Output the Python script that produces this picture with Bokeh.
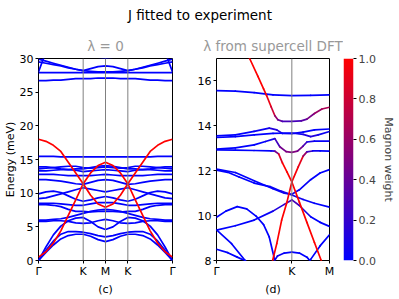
import numpy as np
from bokeh.plotting import figure
from bokeh.layouts import row, column
from bokeh.models import (Range1d, FixedTicker, Span, ColumnDataSource, LinearColorMapper,
                          PrintfTickFormatter)
from bokeh.transform import transform
from bokeh.core.properties import value
from bokeh.embed import file_html
from bokeh.resources import INLINE

# ---------------- texts ----------------
SUPTITLE = "J fitted to experiment"
TITLE_L = "λ = 0"
TITLE_R = "λ from supercell DFT"
YLABEL = "Energy (meV)"
CB_LABEL = "Magnon weight"
PANEL_L = "(c)"
PANEL_R = "(d)"

# ---------------- left panel (path Γ-K-M-K-Γ, symmetric about M) ----------------
L_TICKS = [0, 2, 3, 4, 6]
L_TICK_LABELS = ["Γ", "K", "M", "K", "Γ"]
L_VLINES = [2, 3, 4]
L_YTICKS = [0, 5, 10, 15, 20, 25, 30]
L_PATH_END = 6
KL = [0, 1/3, 2/3, 1, 4/3, 5/3, 2, 7/3, 8/3, 3]   # Γ -> K -> M

# phonon bands (meV) along Γ-K-M
B1 = [0.0, 1.2, 2.3, 3.2, 3.7, 3.9, 3.9, 3.6, 3.1, 2.8]
B2 = [0.0, 1.5, 2.9, 3.9, 4.3, 4.3, 4.2, 4.0, 3.7, 3.5]
B3 = [0.0, 2.0, 3.8, 5.1, 5.9, 6.3, 6.4, 5.8, 5.0, 4.6]
B4 = [5.8, 5.8, 5.9, 5.9, 5.8, 5.6, 5.5, 5.6, 5.9, 6.1]
B5 = [6.0, 6.0, 6.1, 6.2, 6.4, 6.7, 7.0, 7.3, 7.5, 7.6]
B6 = [8.3, 8.3, 8.2, 8.0, 7.6, 7.3, 7.3, 7.2, 7.3, 7.3]
B7 = [8.5, 8.5, 8.5, 8.4, 8.3, 8.2, 8.2, 8.4, 8.6, 8.6]
B8 = [9.2, 9.3, 9.6, 9.9, 10.2, 10.5, 10.8, 10.6, 10.4, 10.2]
B9 = [9.9, 10.2, 10.3, 10.1, 9.6, 9.1, 8.8, 9.0, 9.3, 9.5]
B10 = [12.0, 12.0, 11.9, 11.8, 11.6, 11.4, 11.3, 11.6, 11.9, 12.0]
B11 = [12.8, 12.8, 12.8, 12.7, 12.6, 12.6, 12.6, 12.6, 12.7, 12.8]
B12 = [13.3, 13.3, 13.4, 13.5, 13.5, 13.4, 13.2, 13.3, 13.4, 13.5]
B13 = [13.6, 13.7, 13.8, 13.9, 14.0, 14.0, 13.8, 13.7, 13.8, 13.9]
B14 = [13.9, 13.9, 13.8, 13.6, 13.5, 13.6, 13.6, 13.8, 14.0, 14.1]
B15 = [15.45, 15.45, 15.45, 15.4, 15.4, 15.4, 15.4, 15.4, 15.4, 15.4]
T1 = [26.7, 26.7, 26.8, 26.8, 26.9, 27.0, 27.0, 27.0, 27.1, 27.1]
T2 = [27.9, 27.9, 27.9, 27.9, 27.9, 27.9, 27.9, 27.9, 27.9, 27.9]
T3 = [29.9, 29.6, 29.3, 29.0, 28.7, 28.4, 28.2, 28.5, 28.8, 28.9]
T4 = [29.5, 29.3, 29.1, 28.9, 28.6, 28.4, 28.2, 28.1, 28.0, 28.0]
T5 = [28.0, 31.0, 31.5, 31.5, 31.5, 31.2, 31.0, 30.6, 30.2, 30.05]
PHONONS_L = [B1, B2, B3, B4, B5, B6, B7, B8, B9, B10, B11, B12, B13, B14, B15,
             T1, T2, T3, T4, T5]
# magnon bands along Γ-K-M
M1 = [0.5, 1.3, 2.6, 4.4, 6.7, 9.0, 11.4, 9.7, 8.4, 7.9]
M2 = [18.0, 17.7, 17.1, 16.2, 14.6, 13.0, 11.4, 13.0, 14.1, 14.6]
MAGNONS_L = [M1, M2]

# ---------------- right panel (path Γ-K-M), coloured by magnon weight ----------------
R_TICKS = [0, 2, 3]
R_TICK_LABELS = ["Γ", "K", "M"]
R_VLINES = [2]
R_YRANGE = [8, 17]
R_YTICKS = [8, 10, 12, 14, 16]
CB_TICKS = [0.0, 0.2, 0.4, 0.6, 0.8, 1.0]

R1_k = [0, 0.5, 1.0, 1.5, 2.0, 2.5, 3.0]
R1_E = [15.57, 15.55, 15.48, 15.38, 15.35, 15.36, 15.38]
R1_w = [0, 0, 0, 0, 0, 0, 0]

R3_k = [0, 0.5, 1.0, 1.4, 1.6, 1.75, 2.0, 2.3, 2.6, 3.0]
R3_E = [13.55, 13.6, 13.75, 13.9, 13.82, 13.66, 13.65, 13.72, 13.82, 13.86]
R3_w = [0, 0, 0, 0.1, 0.15, 0.1, 0.05, 0, 0, 0]

R4_k = [0, 0.5, 1.0, 1.5, 2.0, 2.3, 2.5, 2.7, 3.0]
R4_E = [13.48, 13.52, 13.6, 13.66, 13.68, 13.62, 13.52, 13.6, 13.75]
R4_w = [0, 0, 0, 0, 0, 0.1, 0.15, 0.1, 0]

R5_k = [0, 0.5, 1.0, 1.3, 1.55, 1.68, 1.85, 2.0, 2.15, 2.3, 2.4, 2.6, 3.0]
R5_E = [12.96, 13.02, 13.15, 13.3, 13.43, 13.07, 12.85, 12.82, 12.87, 13.1, 13.28, 13.32, 13.32]
R5_w = [0, 0, 0, 0, 0.1, 0.4, 0.5, 0.5, 0.5, 0.4, 0.15, 0.05, 0]

R8_k = [0, 0.5, 1.0, 1.5, 1.8, 2.0, 2.2, 2.5, 2.75, 3.0]
R8_E = [12.07, 11.92, 11.55, 11.2, 11.0, 10.95, 11.15, 11.6, 11.9, 12.05]
R8_w = [0, 0, 0, 0, 0.05, 0.1, 0.05, 0, 0, 0]

R9_k = [0, 0.3, 0.6, 1.0, 1.42, 1.7, 2.0, 2.3, 2.6, 3.0]
R9_E = [12.03, 11.93, 11.72, 11.45, 11.29, 11.1, 10.92, 10.72, 10.55, 10.38]
R9_w = [0, 0, 0, 0, 0, 0.05, 0.1, 0.05, 0, 0]

R10_k = [0, 0.5, 1.0, 1.5, 1.8, 2.0, 2.2, 2.5, 2.75, 3.0]
R10_E = [9.35, 9.55, 9.8, 10.2, 10.5, 10.7, 10.45, 9.95, 9.7, 9.52]
R10_w = [0, 0, 0, 0.05, 0.2, 0.35, 0.2, 0, 0, 0]

R11_k = [0, 0.25, 0.55, 0.8, 1.05, 1.25, 1.4, 1.52, 1.56]
R11_E = [9.93, 10.2, 10.4, 10.3, 9.98, 9.6, 9.05, 8.2, 7.8]
R11_w = [0, 0, 0, 0, 0, 0, 0, 0, 0]

R12_k = [0, 0.4, 0.76, 0.85]
R12_E = [9.37, 8.75, 8.0, 7.8]
R12_w = [0, 0, 0, 0]

R13_k = [0, 0.3, 0.55, 0.75, 0.85]
R13_E = [8.5, 8.35, 8.15, 8.0, 7.9]
R13_w = [0, 0, 0, 0, 0]

R14_k = [1.5, 1.62, 1.8, 2.0, 2.2, 2.4, 2.5]
R14_E = [7.9, 8.2, 8.33, 8.37, 8.33, 8.15, 7.95]
R14_w = [0, 0.1, 0, 0, 0, 0, 0]

R15_k = [2.42, 2.5, 2.75, 3.0]
R15_E = [7.8, 8.05, 8.65, 9.15]
R15_w = [0, 0, 0, 0]

# bands carrying most of the magnon weight
R2_k = [0.75, 0.88, 1.1, 1.25, 1.33, 1.45, 1.55, 1.63, 1.75, 2.0, 2.25, 2.4, 2.6, 2.8, 3.0]
R2_E = [17.45, 17.0, 16.2, 15.65, 15.35, 14.85, 14.45, 14.27, 14.2, 14.2, 14.22, 14.3, 14.55, 14.75, 14.83]
R2_w = [1, 1, 1, 1, 0.95, 0.9, 0.7, 0.45, 0.3, 0.25, 0.3, 0.4, 0.55, 0.65, 0.7]

R6_k = [0, 0.5, 1.0, 1.45, 1.55, 1.65, 1.75, 1.87, 2.0, 2.2, 2.4, 2.6, 2.78, 2.85]
R6_E = [12.93, 12.92, 12.9, 12.88, 12.87, 12.75, 12.35, 11.95, 11.5, 10.6, 9.7, 8.8, 8.0, 7.7]
R6_w = [0, 0, 0, 0, 0.2, 0.7, 1, 1, 1, 1, 1, 1, 1, 1]

R7_k = [1.44, 1.49, 1.6, 1.73, 1.87, 2.0, 2.17, 2.3, 2.4, 2.55, 2.75, 3.0]
R7_E = [7.7, 8.0, 8.75, 9.8, 10.6, 11.5, 12.17, 12.65, 12.84, 12.88, 12.88, 12.87]
R7_w = [1, 1, 1, 1, 1, 0.95, 1, 0.8, 0.4, 0.1, 0, 0]

BANDS_R = [(R1_k, R1_E, R1_w), (R3_k, R3_E, R3_w), (R4_k, R4_E, R4_w),
           (R5_k, R5_E, R5_w), (R8_k, R8_E, R8_w), (R9_k, R9_E, R9_w),
           (R10_k, R10_E, R10_w), (R11_k, R11_E, R11_w), (R12_k, R12_E, R12_w),
           (R13_k, R13_E, R13_w), (R14_k, R14_E, R14_w), (R15_k, R15_E, R15_w),
           (R2_k, R2_E, R2_w), (R6_k, R6_E, R6_w), (R7_k, R7_E, R7_w)]

# ---------------- style ----------------
FONT = "DejaVu Sans"
BLUE = "#0000ff"
RED = "#ff0000"
PALETTE = ["#%02x00%02x" % (i, 255 - i) for i in range(256)]
LW = 1.7
FH_TOP = 26       # suptitle strip height
FIG_H = 272       # height of the panel figures
B_TOP, B_BOT = 32, 37


def style(p, xticks, xlabels, yticks, xlabel):
    p.grid.visible = False
    p.outline_line_color = "black"
    p.outline_line_width = 1
    p.background_fill_color = "white"
    p.border_fill_color = "white"
    for ax in (p.xaxis[0], p.yaxis[0]):
        ax.axis_line_color = None
        ax.major_tick_in = 0
        ax.major_tick_out = 3
        ax.major_tick_line_color = "black"
        ax.minor_tick_line_color = None
        ax.major_label_text_font = FONT
        ax.major_label_text_font_size = "11px"
        ax.major_label_text_color = "black"
        ax.axis_label_text_font = FONT
        ax.axis_label_text_font_size = "11px"
        ax.axis_label_text_font_style = "normal"
        ax.axis_label_text_color = "black"
    p.xaxis.ticker = FixedTicker(ticks=xticks)
    p.xaxis.major_label_overrides = {t: l for t, l in zip(xticks, xlabels)}
    p.xaxis.major_label_standoff = 1
    p.xaxis.axis_label = xlabel
    p.xaxis.axis_label_standoff = 2
    p.yaxis.ticker = FixedTicker(ticks=yticks)
    p.yaxis.major_label_standoff = 2
    p.title.align = "center"
    p.title.text_font = FONT
    p.title.text_font_size = "13.5px"
    p.title.text_font_style = "normal"
    p.title.text_color = "#999999"
    p.title.standoff = 9


# ----- left figure -----
p1 = figure(width=190, height=FIG_H, x_range=Range1d(0, L_PATH_END),
            y_range=Range1d(L_YTICKS[0], L_YTICKS[-1]), title=TITLE_L,
            output_backend="svg", toolbar_location=None,
            min_border_left=36, min_border_right=18, min_border_top=B_TOP, min_border_bottom=B_BOT)
style(p1, L_TICKS, L_TICK_LABELS, L_YTICKS, PANEL_L)
p1.yaxis.axis_label = YLABEL
p1.yaxis.axis_label_standoff = 0
for v in L_VLINES:
    p1.add_layout(Span(location=v, dimension="height", line_color="#808080", line_width=1))


def mirror(vals):
    ks = KL + [L_PATH_END - k for k in reversed(KL[:-1])]
    es = vals + list(reversed(vals[:-1]))
    return ks, es


for b in PHONONS_L:
    ks, es = mirror(b)
    p1.line(ks, es, line_color=BLUE, line_width=LW)
for b in MAGNONS_L:
    ks, es = mirror(b)
    p1.line(ks, es, line_color=RED, line_width=LW)

# ----- right figure -----
p2 = figure(width=153, height=FIG_H, x_range=Range1d(R_TICKS[0], R_TICKS[-1]),
            y_range=Range1d(*R_YRANGE), title=TITLE_R,
            output_backend="svg", toolbar_location=None,
            min_border_left=26, min_border_right=14, min_border_top=B_TOP, min_border_bottom=B_BOT)
style(p2, R_TICKS, R_TICK_LABELS, R_YTICKS, PANEL_R)
for v in R_VLINES:
    p2.add_layout(Span(location=v, dimension="height", line_color="#808080", line_width=1))

mapper = LinearColorMapper(palette=PALETTE, low=0, high=1)
x0, y0, x1, y1, ww = [], [], [], [], []
for ks, es, ws in BANDS_R:
    for i in range(len(ks) - 1):
        x0.append(ks[i]); x1.append(ks[i + 1])
        y0.append(es[i]); y1.append(es[i + 1])
        ww.append((ws[i] + ws[i + 1]) / 2)
src = ColumnDataSource(dict(x0=x0, y0=y0, x1=x1, y1=y1, w=ww))
p2.segment("x0", "y0", "x1", "y1", source=src, line_color=transform("w", mapper),
           line_width=LW, line_cap="round")

# ----- colour bar as its own small figure -----
p3 = figure(width=56, height=FIG_H, x_range=Range1d(0, 1), y_range=Range1d(0, 1),
            output_backend="svg", toolbar_location=None, x_axis_location=None,
            y_axis_location="right",
            min_border_left=0, min_border_right=46, min_border_top=B_TOP, min_border_bottom=B_BOT)
p3.grid.visible = False
p3.outline_line_color = None
p3.image(image=[np.linspace(0, 1, 256).reshape(256, 1)], x=0, y=0, dw=1, dh=1,
         color_mapper=mapper)
ax = p3.yaxis[0]
ax.ticker = FixedTicker(ticks=CB_TICKS)
ax.formatter = PrintfTickFormatter(format="%.1f")
ax.axis_line_color = None
ax.major_tick_in = 0
ax.major_tick_out = 3
ax.major_tick_line_color = "black"
ax.minor_tick_line_color = None
ax.major_label_standoff = 2
ax.major_label_text_font = FONT
ax.major_label_text_font_size = "11px"
ax.axis_label = CB_LABEL
ax.axis_label_text_font = FONT
ax.axis_label_text_font_size = "11px"
ax.axis_label_text_font_style = "normal"
ax.axis_label_standoff = 3

# ----- suptitle strip -----
p0 = figure(width=399, height=FH_TOP, x_range=Range1d(0, 1), y_range=Range1d(0, 1),
            output_backend="svg", toolbar_location=None, min_border=0,
            x_axis_location=None, y_axis_location=None)
p0.outline_line_color = None
p0.grid.visible = False
p0.text(x=[0.5], y=[0.44], text=[SUPTITLE], text_align="center", text_baseline="middle",
        text_font=value(FONT), text_font_size="13.5px", text_color="black")

layout = column(p0, row(p1, p2, p3))
open("out.html", "w").write(file_html(layout, INLINE))
